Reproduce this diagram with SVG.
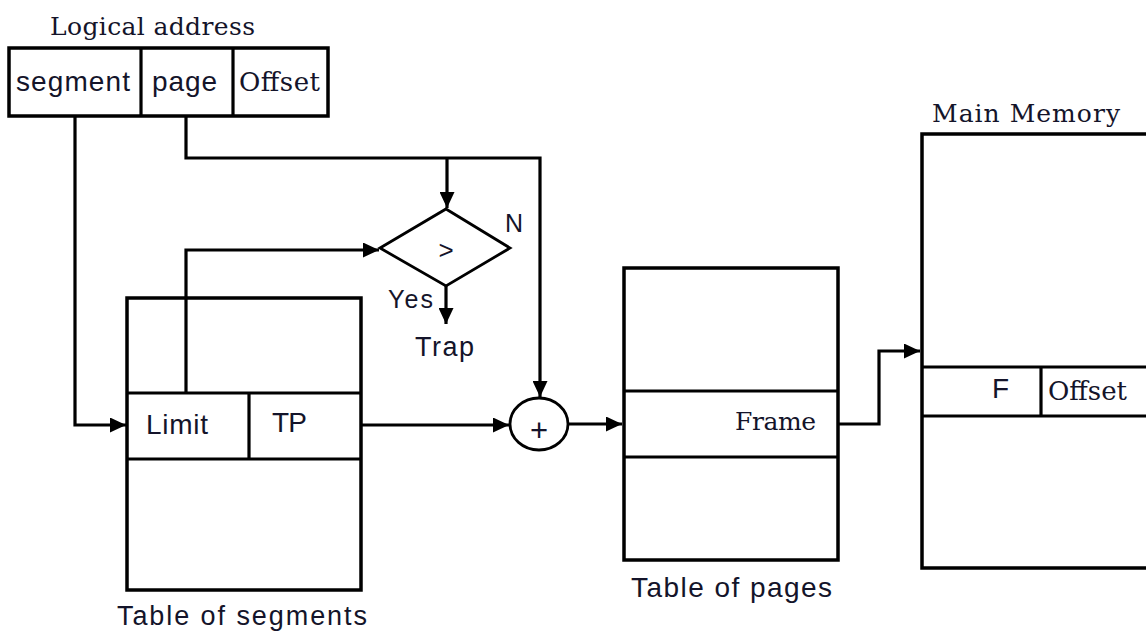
<svg xmlns="http://www.w3.org/2000/svg" width="1146" height="631" viewBox="0 0 1146 631">
<style>
.box{fill:none;stroke:#000;stroke-width:3.5}
.ln{fill:none;stroke:#000;stroke-width:3.2}
.thin{fill:#fff;stroke:#000;stroke-width:2.8}
.conn{fill:none;stroke:#000;stroke-width:3.2;marker-end:url(#ah)}
.sans{font-family:"Liberation Sans",Arial,sans-serif;fill:#14142a}
.serif{font-family:"DejaVu Serif","Liberation Serif",serif;fill:#14142a}
</style>
<defs>
<marker id="ah" markerUnits="userSpaceOnUse" markerWidth="17" markerHeight="15" refX="16" refY="7.5" orient="auto">
<path d="M0,0 L16,7.5 L0,15 z" fill="#000"/>
</marker>
</defs>
<rect width="1146" height="631" fill="#fff"/>

<g id="logical-address">
<text class="serif" x="50" y="35" font-size="25" textLength="205">Logical address</text>
<rect class="box" x="9" y="48" width="319" height="68"/>
<line class="ln" x1="141" y1="48" x2="141" y2="116"/>
<line class="ln" x1="233" y1="48" x2="233" y2="116"/>
<text class="sans" x="16" y="91" font-size="28" textLength="114">segment</text>
<text class="sans" x="152" y="91" font-size="28" textLength="65">page</text>
<text class="serif" x="239" y="91" font-size="26" textLength="81">Offset</text>
</g>

<g id="compare">
<polygon class="thin" points="446,209 510,248 446,286 380,248"/>
<text class="sans" x="446" y="259" font-size="26" text-anchor="middle">&gt;</text>
<text class="sans" x="505" y="232" font-size="25">N</text>
<text class="sans" x="388" y="308" font-size="25" textLength="45">Yes</text>
<text class="sans" x="415" y="356" font-size="27" textLength="59">Trap</text>
</g>

<g id="table-segments">
<rect class="box" x="127" y="298" width="234" height="292"/>
<line class="ln" x1="127" y1="393" x2="361" y2="393"/>
<line class="ln" x1="127" y1="459" x2="361" y2="459"/>
<line class="ln" x1="249" y1="393" x2="249" y2="459"/>
<text class="sans" x="146" y="434" font-size="28" textLength="62">Limit</text>
<text class="sans" x="272" y="432" font-size="28" textLength="35">TP</text>
<text class="sans" x="117" y="625" font-size="27" textLength="250">Table  of segments</text>
</g>

<g id="adder">
<ellipse class="thin" cx="539" cy="424" rx="29" ry="26"/>
<text class="sans" x="539" y="441" font-size="31" text-anchor="middle">+</text>
</g>

<g id="table-pages">
<rect class="box" x="624" y="268" width="214" height="292"/>
<line class="ln" x1="624" y1="391" x2="838" y2="391"/>
<line class="ln" x1="624" y1="457" x2="838" y2="457"/>
<text class="serif" x="735" y="430" font-size="25" textLength="81">Frame</text>
<text class="sans" x="631" y="597" font-size="28" textLength="201">Table of  pages</text>
</g>

<g id="main-memory">
<text class="serif" x="932" y="122" font-size="25" textLength="188">Main Memory</text>
<path class="box" d="M1150,134 H922 V568 H1150"/>
<line class="ln" x1="922" y1="367" x2="1146" y2="367"/>
<line class="ln" x1="922" y1="416" x2="1146" y2="416"/>
<line class="ln" x1="1041" y1="367" x2="1041" y2="416"/>
<text class="sans" x="992" y="398" font-size="28">F</text>
<text class="serif" x="1048" y="400" font-size="26" textLength="79">Offset</text>
</g>

<g id="connectors">
<path class="conn" d="M75,116 V425 H126"/>
<path class="conn" d="M186,116 V158 H540 V397"/>
<path class="conn" d="M447,158 V208"/>
<path class="conn" d="M186,393 V250 H379"/>
<path class="conn" d="M446,286 V324"/>
<path class="conn" d="M361,425 H509"/>
<path class="conn" d="M568,424 H622"/>
<path class="conn" d="M838,424 H879 V351 H920"/>
</g>
</svg>
